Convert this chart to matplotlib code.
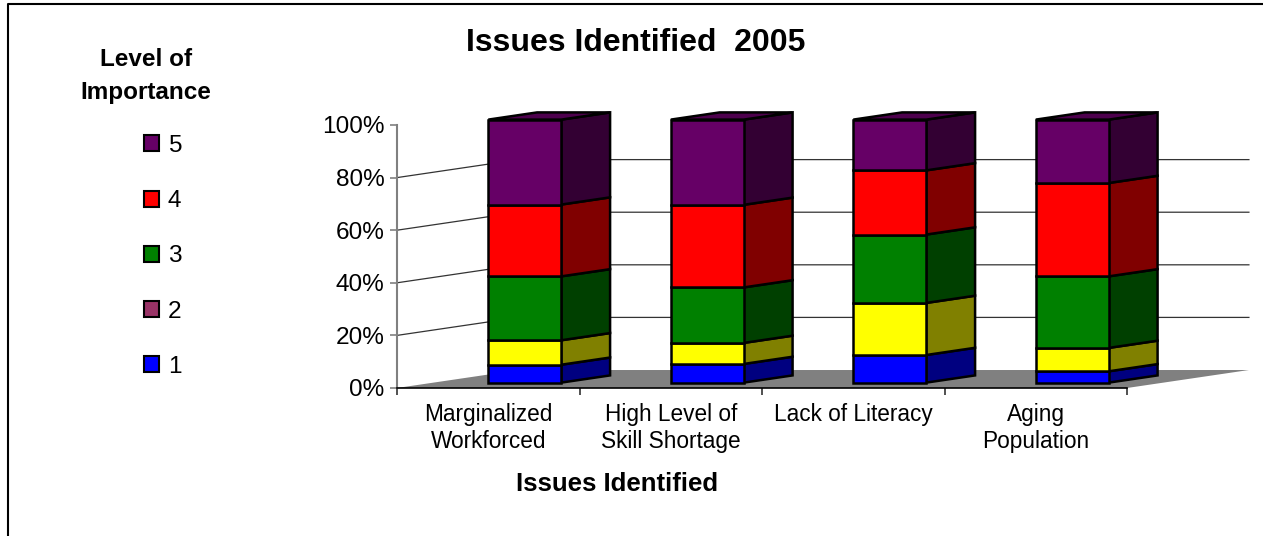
import matplotlib.pyplot as plt
from matplotlib.patches import Polygon, Patch
from matplotlib.lines import Line2D
import numpy as np

plt.rcParams['font.family'] = ['Liberation Sans', 'DejaVu Sans']

categories = ["Marginalized\nWorkforced", "High Level of\nSkill Shortage",
              "Lack of Literacy", "Aging\nPopulation"]
levels = ["1", "2", "3", "4", "5"]
# percent share of each importance level per issue
level1 = [6.8, 7.1, 10.5, 4.3]
level2 = [9.3, 8.0, 19.8, 8.9]
level3 = [24.3, 21.1, 26.0, 27.2]
level4 = [27.3, 31.4, 24.4, 35.5]
level5 = [32.3, 32.4, 19.3, 24.1]
yticks = [0, 20, 40, 60, 80, 100]

front_colors = ["#0000ff", "#ffff00", "#008000", "#ff0000", "#660066"]
side_colors = ["#000080", "#808000", "#004000", "#800000", "#330033"]
top_color = "#4d004d"
legend_colors = {"5": "#660066", "4": "#ff0000", "3": "#008000",
                 "2": "#993366", "1": "#0000ff"}

W, H = 1263, 536
fig = plt.figure(figsize=(W / 100, H / 100), dpi=100)
ax = fig.add_axes([397 / W, 1 - 388 / H, 730 / W, 263 / H])
ax.set_xlim(0, 4)
ax.set_ylim(0, 100)

# oblique depth of the 3D box, in data units
DX, DY = 0.668, 6.84
f0, dep, bw = 0.3, 0.4, 0.4

n = len(categories)
# floor
ax.add_patch(Polygon([(0, 0), (n, 0), (n + DX, DY), (DX, DY)], closed=True,
                     facecolor="#808080", edgecolor="none", zorder=1, clip_on=False))
# wall gridlines
for v in yticks[1:-1]:
    ax.plot([0, DX, n + DX], [v, v + DY, v + DY], color="#333333", lw=0.9,
            zorder=2, clip_on=False)

data = np.array([level1, level2, level3, level4, level5])
bottoms = np.vstack([np.zeros(n), np.cumsum(data, axis=0)[:-1]])
centers = np.arange(n) + 0.5
for k in range(len(levels)):
    ax.bar(centers + f0 * DX, data[k], bottom=bottoms[k] + f0 * DY, width=bw,
           color=front_colors[k], edgecolor="black", linewidth=1.8, zorder=5,
           clip_on=False)
    for i in range(n):
        x1 = centers[i] + f0 * DX + bw / 2
        b, t = bottoms[k][i], bottoms[k][i] + data[k][i]
        ax.add_patch(Polygon([(x1, b + f0 * DY), (x1 + dep * DX, b + (f0 + dep) * DY),
                              (x1 + dep * DX, t + (f0 + dep) * DY), (x1, t + f0 * DY)],
                             closed=True, facecolor=side_colors[k], edgecolor="black",
                             linewidth=1.8, zorder=4, clip_on=False, joinstyle="miter"))
tot = data.sum(axis=0)
for i in range(n):
    x0 = centers[i] + f0 * DX - bw / 2
    x1 = x0 + bw
    t = tot[i]
    ax.add_patch(Polygon([(x0, t + f0 * DY), (x1, t + f0 * DY),
                          (x1 + dep * DX, t + (f0 + dep) * DY), (x0 + dep * DX, t + (f0 + dep) * DY)],
                         closed=True, facecolor=top_color, edgecolor="black",
                         linewidth=1.8, zorder=4, clip_on=False))

for s in ["top", "right"]:
    ax.spines[s].set_visible(False)
ax.spines["left"].set_color("#808080")
ax.spines["left"].set_linewidth(1.5)
ax.spines["bottom"].set_color("black")
ax.spines["bottom"].set_linewidth(1.2)
ax.spines["bottom"].set_zorder(3)
ax.set_facecolor("none")

ax.set_yticks(yticks)
ax.set_yticklabels([f"{v}%" for v in yticks], fontsize=17.6)
ax.tick_params(axis="y", length=5, color="#808080", width=1.2, pad=4)
ax.set_xticks(np.arange(n + 1))
ax.set_xticklabels([])
ax.tick_params(axis="x", which="major", length=5, color="#333333", width=1.2)
ax.set_xticks(centers, minor=True)
ax.set_xticklabels(categories, minor=True, fontsize=16.3, linespacing=1.2)
ax.tick_params(axis="x", which="minor", length=0, pad=11)

fig.text(636 / W, 1 - 43 / H, "Issues Identified  2005", fontsize=23,
         fontweight="bold", ha="center", va="center")
fig.text(617 / W, 1 - 484 / H, "Issues Identified", fontsize=18.5,
         fontweight="bold", ha="center", va="center")
fig.text(146 / W, 1 - 76 / H, "Level of\nImportance", fontsize=17.5,
         fontweight="bold", ha="center", va="center", linespacing=1.6)

order = ["5", "4", "3", "2", "1"]
handles = [Patch(facecolor=legend_colors[l], edgecolor="black", linewidth=1.5) for l in order]
fig.legend(handles, order, loc="upper left", bbox_to_anchor=(144 / W, 1 - 135 / H),
           frameon=False, fontsize=17.6, handlelength=0.62, handleheight=0.62,
           handletextpad=0.35, labelspacing=1.36, borderaxespad=0, borderpad=0)

# outer chart border (left and top only visible)
fig.add_artist(Line2D([7.5 / W, 7.5 / W, 1], [0, 1 - 3.5 / H, 1 - 3.5 / H],
                      transform=fig.transFigure, color="black", lw=1.5))

fig.savefig("out.png", dpi=100)
